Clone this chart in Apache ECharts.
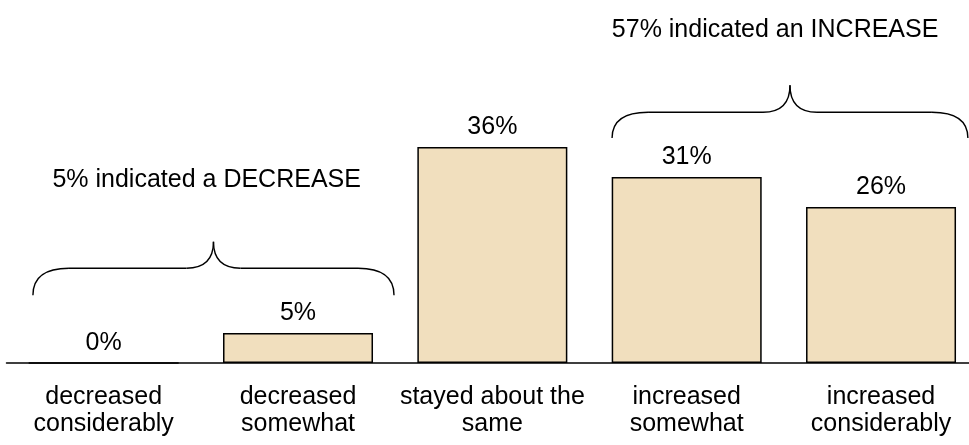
<!DOCTYPE html>
<html>
<head>
<meta charset="utf-8">
<script src="https://cdn.jsdelivr.net/npm/echarts@6/dist/echarts.min.js"></script>
<style>
  html, body { margin: 0; padding: 0; background: #fff; }
  #chart { width: 969px; height: 445px; }
</style>
</head>
<body>
<div id="chart"></div>
<script>
// Responses: how did the amount change?
var categories = [
  'decreased\nconsiderably',
  'decreased\nsomewhat',
  'stayed about the\nsame',
  'increased\nsomewhat',
  'increased\nconsiderably'
];
var shares = [0, 5, 36, 31, 26];

// Grouping annotations: summary text for each brace
var groupLabels = ['5% indicated a DECREASE', '57% indicated an INCREASE'];

var FONT = '"Liberation Sans", Arial, sans-serif';

var chart = echarts.init(document.getElementById('chart'), null, { renderer: 'canvas' });

chart.setOption({
  animation: false,
  backgroundColor: '#ffffff',
  grid: { left: 6.5, top: 3, width: 971.7, bottom: 82, containLabel: false, outerBoundsMode: 'none' },
  xAxis: {
    type: 'category',
    data: categories,
    axisLine: { show: true, lineStyle: { color: '#000', width: 1.5 } },
    axisTick: { show: false },
    axisLabel: {
      color: '#000', fontFamily: FONT, fontSize: 25, lineHeight: 27,
      margin: 21, interval: 0, hideOverlap: false
    }
  },
  yAxis: {
    type: 'value', min: 0, max: 60,
    show: false, splitLine: { show: false }
  },
  series: [{
    type: 'bar',
    data: shares,
    barWidth: 150,
    itemStyle: { color: '#F1DFBE', borderColor: '#000', borderWidth: 1.5 },
    label: {
      show: true, position: 'top', distance: 7,
      color: '#000', fontFamily: FONT, fontSize: 25,
      formatter: function (p) { return p.value + '%'; }
    }
  }]
});

// Brace geometry, in category-index units (x) and value units (y)
var braceSpan = [[-0.364, 1.494], [2.616, 4.447]];
var braceLevels = [[11.3, 15.8, 20.2], [37.5, 41.8, 46.3]]; // ends, bar, tip
var textPos = [[0.53, 30.5], [3.455, 55.5]];

function px(u, v) {
  var p0 = chart.convertToPixel({ gridIndex: 0 }, [0, v]);
  var p1 = chart.convertToPixel({ gridIndex: 0 }, [1, v]);
  return [p0[0] + (p1[0] - p0[0]) * u, p0[1]];
}

var strokeStyle = { fill: null, stroke: '#000', lineWidth: 1.4 };
function curve(xa, ya, cx, cy, xb, yb) {
  return {
    type: 'bezierCurve', silent: true,
    shape: { x1: xa, y1: ya, cpx1: cx, cpy1: cy, x2: xb, y2: yb },
    style: strokeStyle
  };
}
function segment(xa, ya, xb, yb) {
  return {
    type: 'line', silent: true,
    shape: { x1: xa, y1: ya, x2: xb, y2: yb },
    style: strokeStyle
  };
}

var graphics = [];
for (var g = 0; g < groupLabels.length; g++) {
  var a = px(braceSpan[g][0], braceLevels[g][0]);
  var b = px(braceSpan[g][1], braceLevels[g][1]);
  var tip = px((braceSpan[g][0] + braceSpan[g][1]) / 2, braceLevels[g][2]);
  var x0 = a[0], x1 = b[0], yEnd = a[1], yBar = b[1], xm = tip[0], yTip = tip[1];
  var r = 36, rt = 27;
  graphics.push(curve(x0, yEnd, x0, yBar, x0 + r, yBar));
  graphics.push(segment(x0 + r, yBar, xm - rt, yBar));
  graphics.push(curve(xm - rt, yBar, xm, yBar, xm, yTip));
  graphics.push(curve(xm, yTip, xm, yBar, xm + rt, yBar));
  graphics.push(segment(xm + rt, yBar, x1 - r, yBar));
  graphics.push(curve(x1 - r, yBar, x1, yBar, x1, yEnd));

  var t = px(textPos[g][0], textPos[g][1]);
  graphics.push({
    type: 'text', silent: true, x: t[0], y: t[1],
    style: {
      text: groupLabels[g], fill: '#000',
      font: '25px ' + FONT, align: 'center', verticalAlign: 'middle'
    }
  });
}
chart.setOption({ graphic: graphics });
</script>
</body>
</html>
